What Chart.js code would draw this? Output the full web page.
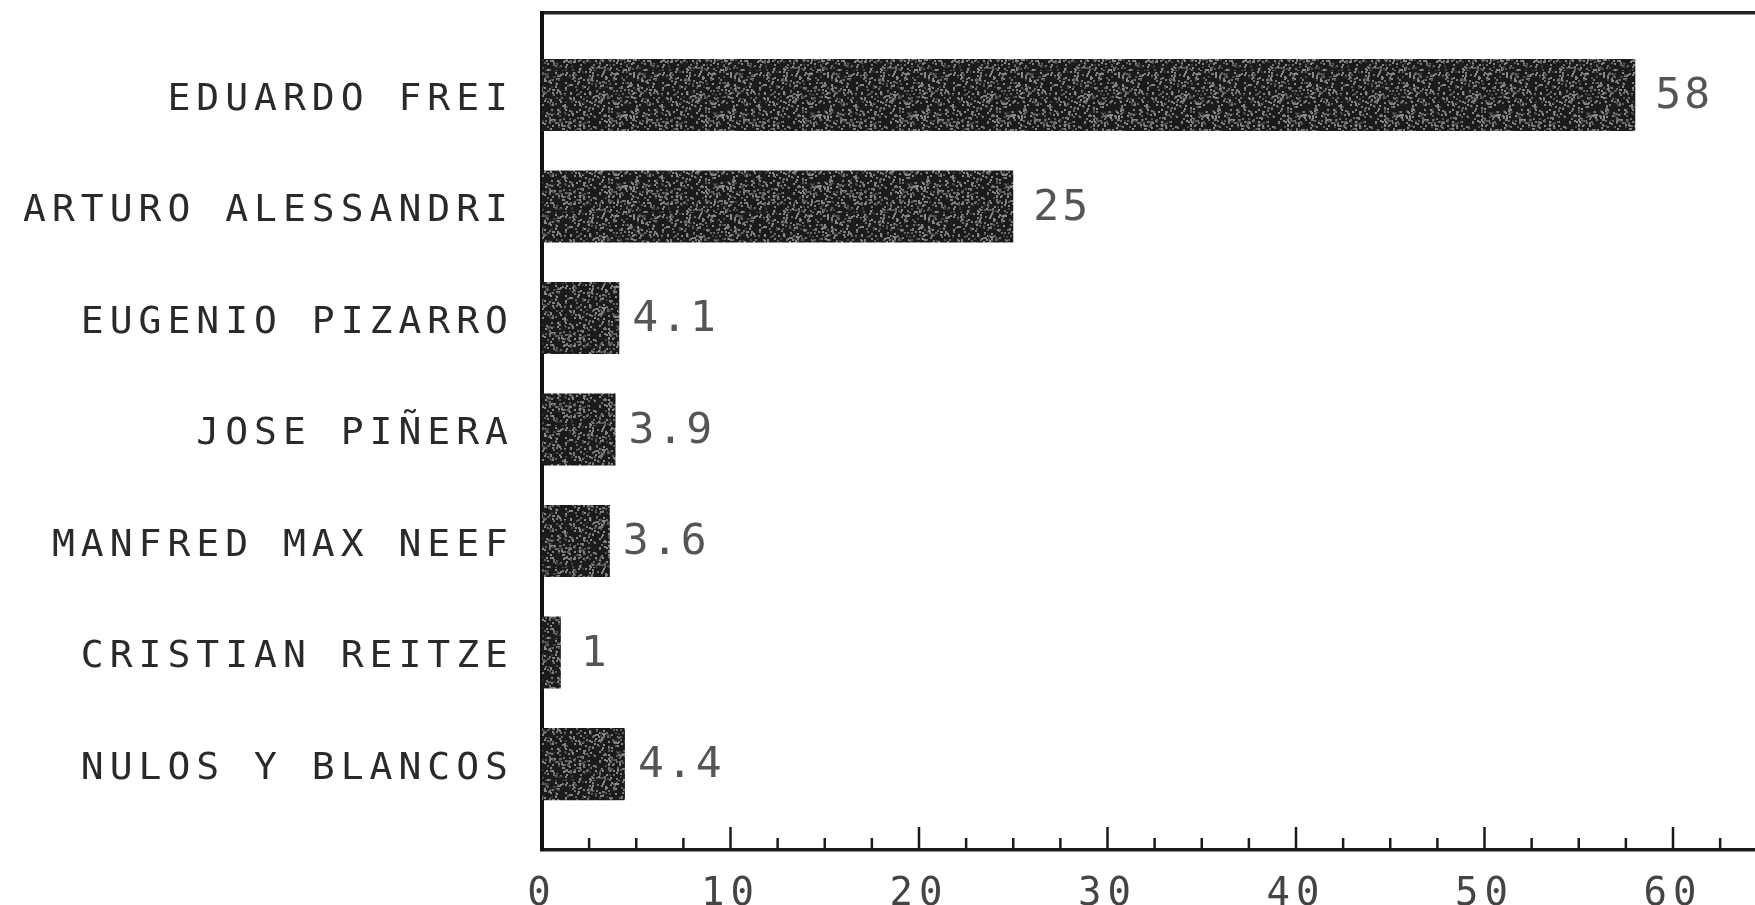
<!DOCTYPE html>
<html>
<head>
<meta charset="utf-8">
<script src="https://cdn.jsdelivr.net/npm/chart.js@4/dist/chart.umd.min.js"></script>
<style>
    html, body { margin: 0; padding: 0; background: #fff; }
    #wrap { width: 1755px; height: 905px; position: relative; }
</style>
</head>
<body>
<div id="wrap"><canvas id="chart"></canvas></div>
<script>
// Candidatos y porcentajes de votos
const candidatos = [
    "EDUARDO FREI",
    "ARTURO ALESSANDRI",
    "EUGENIO PIZARRO",
    "JOSE PIÑERA",
    "MANFRED MAX NEEF",
    "CRISTIAN REITZE",
    "NULOS Y BLANCOS",
];
const votos = [58, 25, 4.1, 3.9, 3.6, 1, 4.4];
const etiquetasVotos = ["58", "25", "4.1", "3.9", "3.6", "1", "4.4"];

const FONT = "'DejaVu Sans Mono', monospace";

// Textura de las barras (tinta de plotter escaneada)
function barPattern() {
    const c = document.createElement("canvas");
    c.width = 97;
    c.height = 71;
    const g = c.getContext("2d");
    g.fillStyle = "#1b1b1b";
    g.fillRect(0, 0, c.width, c.height);
    for (let i = 0; i < 650; i++) {
        const a = Math.abs(Math.sin(i * 12.9898) * 43758.5453) % 1;
        const b = Math.abs(Math.sin(i * 78.233) * 12345.6789) % 1;
        const v = 55 + Math.floor((Math.abs(Math.sin(i * 3.17)) % 1) * 85);
        g.fillStyle = `rgb(${v},${v},${v})`;
        g.fillRect(Math.floor(a * c.width), Math.floor(b * c.height), 2, 2);
    }
    return g.createPattern(c, "repeat");
}

const canvas = document.getElementById("chart");
const ctx = canvas.getContext("2d");

// Espaciado de letras como en el plotter
const spacingPlugin = {
    id: "spacing",
    beforeUpdate(chart) { chart.ctx.letterSpacing = "6px"; },
    beforeDraw(chart) { chart.ctx.letterSpacing = "6px"; },
};

// Marcas del eje X hacia adentro (largas cada 10, cortas cada 2.5)
const tickPlugin = {
    id: "innerTicks",
    afterDraw(chart) {
        const xs = chart.scales.x;
        const bottom = chart.chartArea.bottom;
        const c = chart.ctx;
        c.save();
        c.strokeStyle = "#1a1a1a";
        c.lineWidth = 2.5;
        xs.ticks.forEach(t => {
            if (t.value === 0) return;
            const px = xs.getPixelForValue(t.value);
            const len = t.value % 10 === 0 ? 23 : 12;
            c.beginPath();
            c.moveTo(px, bottom);
            c.lineTo(px, bottom - len);
            c.stroke();
        });
        c.restore();
    }
};

// Valores al final de cada barra
const valuePlugin = {
    id: "values",
    afterDatasetsDraw(chart) {
        const c = chart.ctx;
        const meta = chart.getDatasetMeta(0);
        c.save();
        c.font = "43px " + FONT;
        c.letterSpacing = "3px";
        c.fillStyle = "#555";
        c.textAlign = "left";
        c.textBaseline = "middle";
        meta.data.forEach((bar, i) => {
            const txt = etiquetasVotos[i];
            const gap = txt.includes(".") ? 13 : 20;
            c.fillText(txt, bar.x + gap, bar.y + 2);
        });
        c.restore();
    }
};

new Chart(ctx, {
    type: "bar",
    data: {
        datasets: [{
            data: votos.map((v, i) => ({ x: v, y: i })),
            backgroundColor: barPattern(),
            borderWidth: 0,
            barPercentage: 0.646,
            categoryPercentage: 1,
        }],
    },
    options: {
        indexAxis: "y",
        responsive: true,
        maintainAspectRatio: false,
        animation: false,
        layout: { padding: 0 },
        plugins: {
            legend: { display: false },
            tooltip: { enabled: false },
        },
        scales: {
            x: {
                type: "linear",
                position: "bottom",
                min: 0,
                max: 64.35,
                grid: { display: false },
                border: { display: true, color: "#1a1a1a", width: 3.5 },
                ticks: {
                    stepSize: 2.5,
                    includeBounds: false,
                    autoSkip: false,
                    maxRotation: 0,
                    padding: 13,
                    color: "#444",
                    font: { family: FONT, size: 39 },
                    callback: v => (v % 10 === 0 ? String(v) : ""),
                },
                afterFit(scale) {
                    scale.height = 55;
                    scale.paddingLeft = 0;
                    scale.paddingRight = 0;
                },
            },
            x2: {
                type: "linear",
                position: "top",
                grid: { display: false },
                border: { display: true, color: "#222", width: 3.5 },
                ticks: { display: false },
                afterFit(scale) { scale.height = 13; },
            },
            y: {
                type: "linear",
                reverse: true,
                offset: false,
                min: -0.735,
                max: 6.77,
                grid: { display: false, offset: false },
                border: { display: true, color: "#111", width: 4 },
                ticks: {
                    stepSize: 1,
                    includeBounds: false,
                    autoSkip: false,
                    padding: 20,
                    labelOffset: 5,
                    color: "#2a2a2a",
                    font: { family: FONT, size: 38 },
                    callback: v => candidatos[v] ?? "",
                },
                afterFit(scale) {
                    scale.width = 542;
                    scale.paddingTop = 0;
                    scale.paddingBottom = 0;
                },
            },
        },
    },
    plugins: [spacingPlugin, tickPlugin, valuePlugin],
});
</script>
</body>
</html>
